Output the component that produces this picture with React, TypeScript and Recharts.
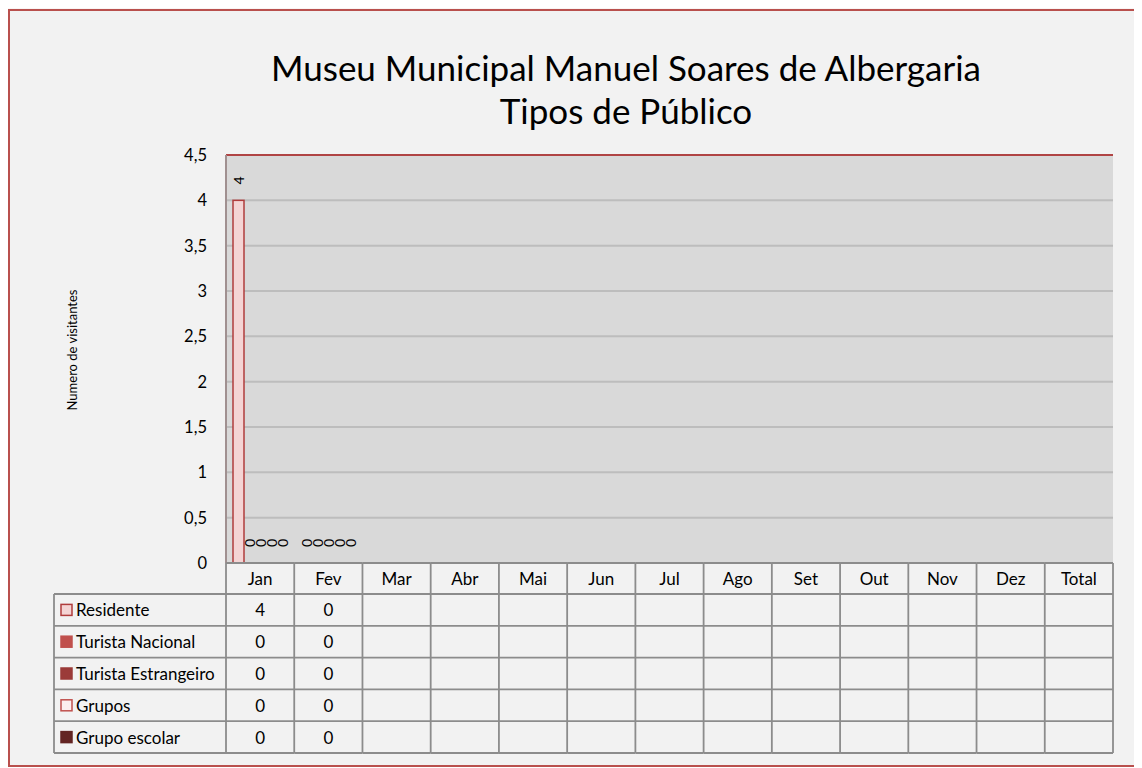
import { Bar, BarChart, CartesianGrid, LabelList, ReferenceLine, XAxis, YAxis } from 'recharts'

const MONTHS = ['Jan', 'Fev', 'Mar', 'Abr', 'Mai', 'Jun', 'Jul', 'Ago', 'Set', 'Out', 'Nov', 'Dez', 'Total']
const RESIDENTE = [4, 0, null, null, null, null, null, null, null, null, null, null, null]
const TURISTA_NACIONAL = [0, 0, null, null, null, null, null, null, null, null, null, null, null]
const TURISTA_ESTRANGEIRO = [0, 0, null, null, null, null, null, null, null, null, null, null, null]
const GRUPOS = [0, 0, null, null, null, null, null, null, null, null, null, null, null]
const GRUPO_ESCOLAR = [0, 0, null, null, null, null, null, null, null, null, null, null, null]
const Y_TICKS = [0, 0.5, 1, 1.5, 2, 2.5, 3, 3.5, 4, 4.5]

const SERIES = [
  { key: 'residente', name: 'Residente', values: RESIDENTE, fill: '#f4d4d4', stroke: '#b03c3c' },
  { key: 'nacional', name: 'Turista Nacional', values: TURISTA_NACIONAL, fill: '#c0504d', stroke: '#c0504d' },
  { key: 'estrangeiro', name: 'Turista Estrangeiro', values: TURISTA_ESTRANGEIRO, fill: '#9b3b39', stroke: '#9b3b39' },
  { key: 'grupos', name: 'Grupos', values: GRUPOS, fill: '#fbeeee', stroke: '#c0504d' },
  { key: 'escolar', name: 'Grupo escolar', values: GRUPO_ESCOLAR, fill: '#632523', stroke: '#632523' },
]

const data = MONTHS.map((month, i) => {
  const row: Record<string, any> = { month }
  SERIES.forEach((s) => (row[s.key] = s.values[i]))
  return row
})

const FONT = 'Lato, "Open Sans", sans-serif'
const W = 1130
const H = 754
const PLOT_LEFT = 216
const PLOT_RIGHT = 1103
const COL_W = (PLOT_RIGHT - PLOT_LEFT) / MONTHS.length
const HEADER_H = 31
const ROW_H = 31.8
const LEGEND_W = 172
const GRID_COLOR = '#8c8c8c'
const TABLE_FONT = 17
const fmt = (v: number) => String(v).replace('.', ',')

function TableTick(props: any) {
  const { x, y, payload } = props
  const i = payload.index
  const half = COL_W / 2
  const left = x - half
  const right = x + half
  const bottom = y + HEADER_H + ROW_H * SERIES.length
  const rowY = (r: number) => y + HEADER_H + ROW_H * r
  const lineProps = { stroke: GRID_COLOR, strokeWidth: 1.8 }
  return (
    <g fontFamily={FONT} fontSize={TABLE_FONT} fill="#000">
      <line x1={left} x2={right} y1={y} y2={y} {...lineProps} />
      {SERIES.map((_, r) => (
        <line key={r} x1={left} x2={right} y1={rowY(r)} y2={rowY(r)} {...lineProps} />
      ))}
      <line x1={left} x2={right} y1={bottom} y2={bottom} {...lineProps} />
      <line x1={right} x2={right} y1={y} y2={bottom} {...lineProps} />
      {i === 0 && <line x1={left} x2={left} y1={y} y2={bottom} {...lineProps} />}
      <text x={x} y={y + HEADER_H / 2} textAnchor="middle" dominantBaseline="central">
        {payload.value}
      </text>
      {SERIES.map((s, r) =>
        s.values[i] == null ? null : (
          <text key={s.key} x={x} y={rowY(r) + ROW_H / 2} textAnchor="middle" dominantBaseline="central">
            {s.values[i]}
          </text>
        ),
      )}
      {i === 0 && (
        <g>
          <line x1={left - LEGEND_W} x2={left - LEGEND_W} y1={rowY(0)} y2={bottom} {...lineProps} />
          {SERIES.map((s, r) => (
            <g key={s.key}>
              <line x1={left - LEGEND_W} x2={left} y1={rowY(r)} y2={rowY(r)} {...lineProps} />
              <rect
                x={left - LEGEND_W + 7}
                y={rowY(r) + ROW_H / 2 - 5.5}
                width={11}
                height={11}
                fill={s.fill}
                stroke={s.stroke}
                strokeWidth={1.5}
              />
              <text x={left - LEGEND_W + 22} y={rowY(r) + ROW_H / 2} dominantBaseline="central">
                {s.name}
              </text>
            </g>
          ))}
          <line x1={left - LEGEND_W} x2={left} y1={bottom} y2={bottom} {...lineProps} />
        </g>
      )}
    </g>
  )
}

// bars with value 0 get a hair-thin height so Recharts keeps their labels; only real bars are drawn
function BarShape(props: any) {
  const { x, y, width, height, value, fill, stroke } = props
  if (!value || height < 0.5) return <g />
  return <rect x={x} y={y} width={width} height={height} fill={fill} stroke={stroke} strokeWidth={1.5} />
}

function RotatedLabel(props: any) {
  const { x, y, width, value } = props
  if (value == null || x == null) return null
  const cx = x + width / 2
  const cy = y - 20
  return (
    <text
      x={cx}
      y={cy}
      transform={`rotate(-90 ${cx} ${cy})`}
      textAnchor="middle"
      dominantBaseline="central"
      fontFamily={FONT}
      fontSize={14}
      fill="#000"
    >
      {value}
    </text>
  )
}

export default function App() {
  return (
    <div
      style={{
        position: 'relative',
        width: W,
        height: H,
        marginTop: 1,
        border: '2px solid #b9504d',
        background: '#f2f2f2',
        boxShadow: '-2px 2px 4px rgba(150,60,60,0.45)',
        fontFamily: FONT,
      }}
    >
      <div
        style={{
          position: 'absolute',
          left: 116,
          top: 35,
          width: 1000,
          textAlign: 'center',
          fontSize: 35,
          lineHeight: '43px',
          color: '#000',
        }}
      >
        Museu Municipal Manuel Soares de Albergaria
        <br />
        Tipos de Público
      </div>
      <BarChart
        width={W}
        height={H}
        data={data}
        margin={{ top: 144, right: 27, bottom: 12, left: 46 }}
        barSize={11}
        barGap={0}
        style={{ position: 'absolute', left: 0, top: 0 }}
      >
        <CartesianGrid yAxisId="l" vertical={false} fill="#d9d9d9" stroke="#bdbdbd" strokeWidth={2} />
        <XAxis
          dataKey="month"
          interval={0}
          height={190}
          tickLine={false}
          axisLine={false}
          tickSize={0}
          tickMargin={0}
          tick={<TableTick />}
        />
        <YAxis
          yAxisId="l"
          width={170}
          domain={[0, 4.5]}
          ticks={Y_TICKS}
          tickFormatter={fmt}
          tickLine={false}
          tickSize={0}
          tickMargin={19}
          axisLine={{ stroke: '#a09090', strokeWidth: 2 }}
          tick={{ fontSize: 16.5, fill: '#000', fontFamily: FONT }}
          label={{
            content: () => (
              <text
                x={62}
                y={339}
                transform="rotate(-90 62 339)"
                textAnchor="middle"
                dominantBaseline="central"
                fontFamily={FONT}
                fontSize={13}
                fill="#000"
              >
                Numero de visitantes
              </text>
            ),
          }}
        />
        <YAxis
          yAxisId="r"
          orientation="right"
          width={0}
          domain={[0, 4.5]}
          tick={false}
          tickLine={false}
          axisLine={{ stroke: '#a8393a', strokeWidth: 2.5 }}
        />
        <ReferenceLine yAxisId="l" y={4.5} stroke="#b04444" strokeWidth={2} />
        {SERIES.map((s) => (
          <Bar
            key={s.key}
            yAxisId="l"
            dataKey={s.key}
            name={s.name}
            fill={s.fill}
            stroke={s.stroke}
            minPointSize={(v: any) => (v === 0 ? 0.01 : 0)}
            shape={<BarShape />}
            isAnimationActive={false}
          >
            <LabelList dataKey={s.key} content={<RotatedLabel />} />
          </Bar>
        ))}
      </BarChart>
    </div>
  )
}
